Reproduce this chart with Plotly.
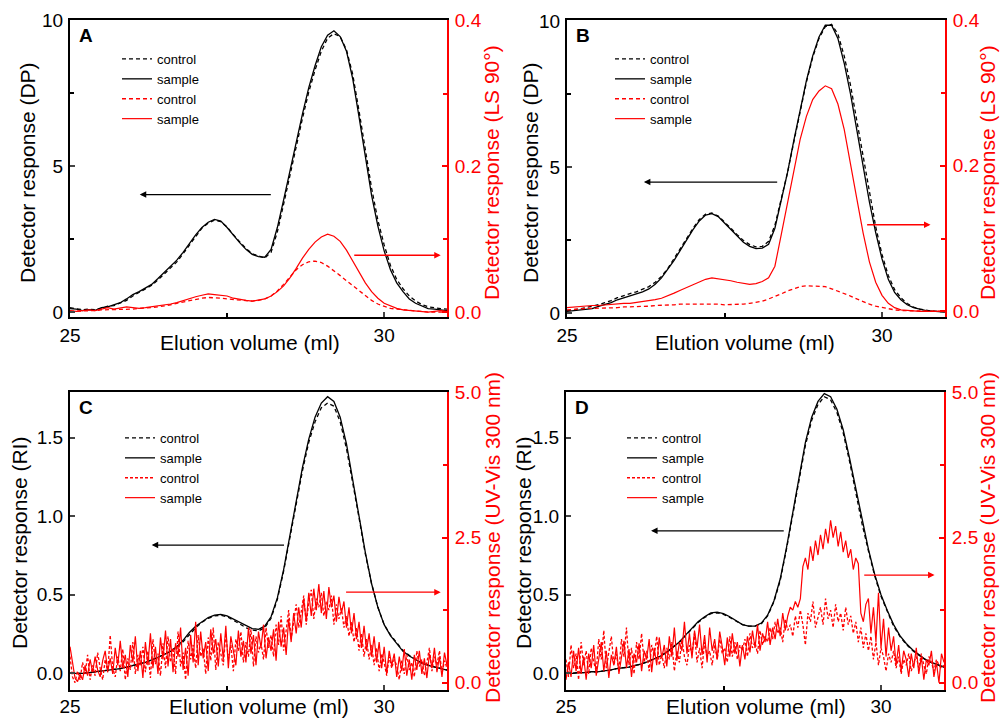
import plotly.graph_objects as go

FONT = "Liberation Sans, Arial, sans-serif"
RED = "#ff0000"

# ---- elution volume grids (ml) ----
x_coarse = [round(25 + 0.1 * i, 2) for i in range(61)]     # 25.0 .. 31.0
x_fine = [round(25 + 0.04 * i, 2) for i in range(151)]     # 25.00 .. 31.00

# ---- Panel A : DP (left) and LS 90 deg (right) ----
A_dp_control = [0.15, 0.12, 0.08, 0.10, 0.08, 0.12, 0.20, 0.22, 0.30, 0.40,
                0.55, 0.68, 0.80, 0.92, 1.10, 1.30, 1.50, 1.72, 2.00, 2.30,
                2.60, 2.88, 3.05, 3.15, 3.10, 2.92, 2.65, 2.40, 2.18, 2.00,
                1.92, 1.85, 2.05, 2.75, 3.70, 4.70, 5.70, 6.65, 7.55, 8.30,
                8.95, 9.40, 9.55, 9.45, 9.00, 8.15, 6.90, 5.55, 4.25, 3.15,
                2.30, 1.60, 1.12, 0.80, 0.55, 0.38, 0.26, 0.18, 0.14, 0.12, 0.10]
A_dp_sample = [0.12, 0.10, 0.05, 0.08, 0.06, 0.15, 0.18, 0.25, 0.32, 0.45,
               0.60, 0.70, 0.82, 0.95, 1.15, 1.35, 1.55, 1.78, 2.05, 2.35,
               2.65, 2.90, 3.08, 3.18, 3.12, 2.90, 2.62, 2.38, 2.15, 1.98,
               1.90, 1.88, 2.15, 2.90, 3.85, 4.85, 5.85, 6.80, 7.70, 8.45,
               9.10, 9.50, 9.65, 9.45, 8.95, 8.00, 6.70, 5.30, 4.00, 2.95,
               2.10, 1.45, 1.00, 0.70, 0.45, 0.30, 0.20, 0.12, 0.10, 0.08, 0.05]
A_ls_control = [0.001, 0.001, 0.002, 0.002, 0.002, 0.003, 0.003, 0.003, 0.004, 0.004,
                0.004, 0.005, 0.005, 0.006, 0.007, 0.008, 0.010, 0.012, 0.014, 0.016,
                0.018, 0.019, 0.020, 0.020, 0.019, 0.018, 0.017, 0.016, 0.015, 0.015,
                0.016, 0.018, 0.022, 0.029, 0.038, 0.048, 0.058, 0.065, 0.069, 0.070,
                0.068, 0.063, 0.057, 0.050, 0.043, 0.036, 0.029, 0.022, 0.016, 0.011,
                0.008, 0.005, 0.004, 0.003, 0.002, 0.001, 0.001, 0.000, 0.000, 0.000, 0.000]
A_ls_sample = [0.002, 0.001, 0.002, 0.003, 0.002, 0.004, 0.006, 0.004, 0.005, 0.007,
               0.006, 0.005, 0.006, 0.007, 0.008, 0.009, 0.011, 0.013, 0.016, 0.019,
               0.021, 0.023, 0.025, 0.024, 0.023, 0.022, 0.019, 0.017, 0.016, 0.015,
               0.016, 0.018, 0.022, 0.028, 0.036, 0.047, 0.060, 0.074, 0.086, 0.096,
               0.103, 0.107, 0.104, 0.097, 0.085, 0.070, 0.054, 0.040, 0.028, 0.019,
               0.012, 0.008, 0.005, 0.003, 0.002, 0.001, 0.001, 0.000, 0.001, 0.002, 0.001]

# ---- Panel B ----
B_dp_control = [0.08, 0.10, 0.14, 0.18, 0.22, 0.28, 0.35, 0.42, 0.52, 0.60,
                0.66, 0.72, 0.80, 0.90, 1.05, 1.25, 1.52, 1.85, 2.20, 2.55,
                2.90, 3.20, 3.38, 3.42, 3.32, 3.12, 2.90, 2.68, 2.48, 2.34,
                2.26, 2.28, 2.45, 3.00, 3.85, 4.80, 5.85, 6.90, 7.90, 8.75,
                9.40, 9.80, 9.88, 9.55, 8.80, 7.80, 6.55, 5.30, 4.05, 2.95,
                2.00, 1.28, 0.80, 0.52, 0.32, 0.20, 0.13, 0.09, 0.06, 0.05, 0.04]
B_dp_sample = [0.05, 0.08, 0.10, 0.12, 0.15, 0.22, 0.28, 0.35, 0.45, 0.52,
               0.58, 0.65, 0.72, 0.82, 0.98, 1.20, 1.48, 1.80, 2.15, 2.50,
               2.85, 3.15, 3.35, 3.40, 3.30, 3.08, 2.85, 2.62, 2.42, 2.28,
               2.20, 2.22, 2.35, 2.90, 3.80, 4.80, 5.90, 6.95, 7.95, 8.80,
               9.45, 9.85, 9.85, 9.40, 8.55, 7.50, 6.25, 5.00, 3.80, 2.75,
               1.85, 1.15, 0.70, 0.45, 0.28, 0.18, 0.12, 0.08, 0.06, 0.04, 0.03]
B_ls_control = [0.002, 0.003, 0.003, 0.004, 0.004, 0.004, 0.005, 0.005, 0.005, 0.006,
                0.006, 0.006, 0.007, 0.007, 0.008, 0.008, 0.009, 0.009, 0.010, 0.010,
                0.010, 0.010, 0.011, 0.010, 0.010, 0.009, 0.009, 0.009, 0.010, 0.011,
                0.012, 0.014, 0.017, 0.020, 0.024, 0.028, 0.031, 0.034, 0.035, 0.035,
                0.035, 0.034, 0.031, 0.028, 0.025, 0.021, 0.017, 0.013, 0.010, 0.007,
                0.005, 0.003, 0.002, 0.001, 0.001, 0.000, 0.000, 0.000, 0.000, 0.000, 0.000]
B_ls_sample = [0.005, 0.006, 0.006, 0.007, 0.008, 0.008, 0.009, 0.010, 0.010, 0.011,
               0.011, 0.012, 0.013, 0.014, 0.016, 0.018, 0.021, 0.025, 0.029, 0.033,
               0.037, 0.041, 0.044, 0.046, 0.045, 0.044, 0.042, 0.040, 0.038, 0.037,
               0.038, 0.041, 0.046, 0.062, 0.105, 0.150, 0.195, 0.236, 0.268, 0.291,
               0.303, 0.310, 0.306, 0.285, 0.250, 0.205, 0.155, 0.108, 0.068, 0.040,
               0.022, 0.011, 0.005, 0.002, 0.001, 0.000, 0.000, 0.000, 0.000, 0.000, 0.000]

# ---- Panel C : RI (left) and UV-Vis 300 nm (right) ----
C_ri_control = [0.00, 0.00, 0.00, 0.005, 0.01, 0.015, 0.02, 0.025, 0.03, 0.04,
                0.05, 0.06, 0.07, 0.085, 0.10, 0.12, 0.14, 0.165, 0.20, 0.245,
                0.29, 0.325, 0.35, 0.365, 0.37, 0.36, 0.34, 0.315, 0.29, 0.275,
                0.27, 0.29, 0.35, 0.47, 0.65, 0.86, 1.08, 1.29, 1.47, 1.60,
                1.69, 1.72, 1.70, 1.60, 1.43, 1.22, 0.99, 0.76, 0.57, 0.42,
                0.31, 0.245, 0.195, 0.145, 0.115, 0.088, 0.067, 0.052, 0.041, 0.031, 0.021]
C_ri_sample = [0.00, 0.00, 0.00, 0.005, 0.01, 0.015, 0.02, 0.025, 0.03, 0.04,
               0.05, 0.06, 0.07, 0.085, 0.10, 0.12, 0.14, 0.17, 0.21, 0.26,
               0.30, 0.33, 0.355, 0.37, 0.375, 0.365, 0.345, 0.32, 0.30, 0.285,
               0.28, 0.30, 0.36, 0.48, 0.66, 0.88, 1.10, 1.31, 1.49, 1.63,
               1.72, 1.76, 1.73, 1.63, 1.46, 1.24, 1.00, 0.77, 0.57, 0.42,
               0.31, 0.24, 0.19, 0.14, 0.11, 0.085, 0.065, 0.05, 0.04, 0.03, 0.02]
C_uv_control = [0.45, 0.10, 0.00, 0.20, 0.05, 0.35, 0.15, 0.48, 0.05, 0.30,
                0.12, 0.52, 0.25, 0.05, 0.40, 0.18, 0.82, 0.25, 0.10, 0.45,
                0.20, 0.58, 0.05, 0.42, 0.22, 0.70, 0.15, 0.48, 0.30, 0.62,
                0.18, 0.55, 0.08, 0.75, 0.32, 0.50, 0.12, 0.68, 0.25, 0.80,
                0.35, 0.60, 0.15, 0.88, 0.28, 0.52, 0.05, 0.72, 0.40, 0.65,
                0.25, 0.82, 0.45, 0.60, 0.15, 0.78, 0.38, 0.95, 0.22, 0.70,
                0.50, 0.30, 0.85, 0.40, 0.65, 0.20, 0.75, 0.55, 0.88, 0.35,
                0.70, 0.45, 0.92, 0.28, 0.80, 0.52, 0.68, 0.40, 0.95, 0.60,
                0.82, 0.45, 1.00, 0.65, 1.15, 0.55, 0.90, 1.25, 0.75, 1.05,
                1.35, 0.95, 1.20, 1.50, 1.00, 1.40, 1.60, 1.10, 1.45, 1.30,
                1.55, 1.15, 1.40, 1.25, 1.50, 1.00, 1.35, 1.10, 1.28, 0.95,
                1.15, 0.80, 1.05, 0.70, 0.95, 0.55, 0.85, 0.45, 0.75, 0.40,
                0.65, 0.30, 0.60, 0.20, 0.50, 0.35, 0.12, 0.45, 0.25, 0.40,
                0.30, 0.05, 0.38, 0.15, 0.48, 0.22, 0.35, 0.10, 0.55, 0.28,
                0.40, 0.12, 0.35, 0.60, 0.20, 0.45, 0.30, 0.55, 0.15, 0.38,
                0.25]
C_uv_sample = [0.62, 0.35, 0.08, 0.02, 0.15, 0.05, 0.30, 0.12, 0.40, 0.18,
               0.45, 0.22, 0.10, 0.38, 0.55, 0.20, 0.42, 0.15, 0.60, 0.30,
               0.72, 0.25, 0.48, 0.10, 0.65, 0.35, 0.80, 0.20, 0.55, 0.08,
               0.70, 0.30, 0.85, 0.25, 0.62, 0.15, 0.78, 0.40, 0.90, 0.28,
               0.75, 0.18, 0.68, 0.45, 0.95, 0.22, 0.60, 0.12, 0.82, 0.35,
               1.05, 0.30, 0.88, 0.42, 0.70, 0.20, 0.92, 0.50, 0.75, 0.28,
               0.85, 0.40, 0.98, 0.25, 0.80, 0.55, 0.30, 0.90, 0.45, 0.72,
               0.35, 0.95, 0.50, 0.82, 0.30, 0.88, 0.60, 1.00, 0.42, 0.78,
               0.55, 0.92, 0.38, 1.05, 0.62, 0.95, 0.48, 1.10, 0.70, 1.20,
               0.85, 1.30, 0.95, 1.45, 1.05, 1.55, 1.15, 1.62, 1.25, 1.70,
               1.20, 1.58, 1.10, 1.65, 1.30, 1.50, 1.05, 1.48, 1.20, 1.40,
               0.95, 1.30, 0.85, 1.20, 0.75, 1.05, 0.60, 0.98, 0.55, 0.85,
               0.45, 0.80, 0.35, 0.70, 0.25, 0.62, 0.15, 0.55, 0.30, 0.50,
               0.10, 0.45, 0.20, 0.58, 0.12, 0.40, 0.05, 0.48, 0.22, 0.55,
               0.15, 0.42, 0.08, 0.50, 0.25, 0.60, 0.18, 0.45, 0.10, 0.52,
               0.30]

# ---- Panel D ----
D_ri_control = [0.00, 0.00, 0.005, 0.005, 0.01, 0.01, 0.015, 0.02, 0.03, 0.035,
                0.04, 0.05, 0.06, 0.075, 0.09, 0.11, 0.135, 0.165, 0.20, 0.24,
                0.285, 0.325, 0.355, 0.38, 0.385, 0.375, 0.355, 0.33, 0.31, 0.30,
                0.30, 0.315, 0.365, 0.455, 0.59, 0.79, 1.01, 1.24, 1.45, 1.61,
                1.71, 1.76, 1.74, 1.66, 1.53, 1.35, 1.15, 0.95, 0.78, 0.62,
                0.49, 0.39, 0.30, 0.235, 0.185, 0.145, 0.115, 0.088, 0.068, 0.053, 0.04]
D_ri_sample = [0.00, 0.00, 0.005, 0.005, 0.01, 0.01, 0.015, 0.02, 0.03, 0.035,
               0.04, 0.05, 0.06, 0.075, 0.09, 0.11, 0.135, 0.165, 0.20, 0.245,
               0.29, 0.33, 0.36, 0.385, 0.39, 0.38, 0.36, 0.335, 0.31, 0.30,
               0.30, 0.32, 0.37, 0.46, 0.60, 0.80, 1.03, 1.26, 1.47, 1.63,
               1.73, 1.78, 1.76, 1.68, 1.55, 1.37, 1.17, 0.97, 0.79, 0.63,
               0.50, 0.40, 0.31, 0.24, 0.19, 0.15, 0.12, 0.09, 0.07, 0.055, 0.04]
D_uv_control = [0.40, 0.10, 0.65, 0.25, 0.50, 0.05, 0.70, 0.30, 0.55, 0.15,
                0.60, 0.35, 0.20, 0.75, 0.40, 0.90, 0.25, 0.55, 0.80, 0.30,
                0.50, 0.20, 0.75, 0.45, 0.95, 0.30, 0.60, 0.15, 0.70, 0.40,
                0.85, 0.35, 0.55, 0.20, 0.65, 0.45, 0.80, 0.30, 0.50, 0.25,
                0.60, 0.40, 0.70, 0.20, 0.55, 0.35, 0.75, 0.45, 0.30, 0.65,
                0.50, 0.85, 0.35, 0.60, 0.25, 0.70, 0.45, 0.55, 0.30, 0.65,
                0.40, 0.75, 0.50, 0.60, 0.35, 0.80, 0.45, 0.70, 0.40, 0.65,
                0.55, 0.75, 0.45, 0.85, 0.60, 0.70, 0.50, 0.90, 0.65, 0.80,
                0.70, 0.95, 0.75, 1.05, 0.85, 0.95, 0.70, 1.10, 0.90, 1.00,
                0.80, 1.15, 0.95, 1.25, 1.00, 0.65, 1.20, 1.05, 1.40, 0.95,
                1.15, 1.30, 1.00, 1.45, 1.10, 1.25, 0.95, 1.35, 1.05, 1.20,
                0.90, 1.30, 1.00, 1.15, 0.85, 1.05, 0.70, 0.95, 0.60, 0.85,
                0.55, 0.80, 0.40, 0.70, 0.30, 0.60, 0.45, 0.20, 0.50, 0.35,
                0.55, 0.25, 0.45, 0.15, 0.40, 0.30, 0.50, 0.20, 0.35, 0.45,
                0.25, 0.50, 0.30, 0.15, 0.45, 0.35, 0.20, 0.40, 0.30, 0.25,
                0.30]
D_uv_sample = [0.05, 0.35, 0.10, 0.55, 0.20, 0.60, 0.15, 0.45, 0.05, 0.50,
               0.25, 0.65, 0.12, 0.40, 0.70, 0.20, 0.55, 0.08, 0.48, 0.30,
               0.62, 0.15, 0.45, 0.72, 0.25, 0.58, 0.10, 0.50, 0.35, 0.68,
               0.20, 0.55, 0.40, 0.75, 0.18, 0.60, 0.30, 0.78, 0.42, 0.65,
               0.28, 0.80, 0.45, 0.95, 0.38, 0.70, 0.55, 1.05, 0.50, 0.85,
               0.42, 0.90, 0.60, 1.00, 0.48, 0.82, 0.35, 0.95, 0.55, 0.75,
               0.40, 0.88, 0.62, 0.30, 0.78, 0.45, 0.85, 0.50, 0.70, 0.28,
               0.65, 0.40, 0.80, 0.52, 0.90, 0.60, 1.00, 0.55, 0.85, 0.70,
               1.05, 0.65, 0.95, 0.75, 1.10, 0.80, 1.20, 0.90, 1.15, 1.30,
               1.25, 1.40, 1.30, 1.45, 2.00, 2.15, 1.95, 2.35, 2.10, 2.45,
               2.20, 2.55, 2.30, 2.65, 2.40, 2.80, 2.50, 2.70, 2.35, 2.60,
               2.25, 2.45, 2.15, 2.30, 1.95, 2.15, 2.05, 1.20, 1.05, 1.35,
               1.45, 0.85, 1.30, 0.70, 1.55, 0.60, 1.10, 0.45, 0.95, 0.55,
               0.80, 0.30, 0.65, 0.20, 0.55, 0.40, 0.10, 0.50, 0.25, 0.60,
               0.15, 0.45, 0.05, 0.40, 0.30, 0.55, 0.10, 0.35, 0.00, 0.50,
               0.35]

# ---- labels ----
x_title = "Elution volume (ml)"
panel_letters = ["A", "B", "C", "D"]
left_titles = ["Detector response (DP)", "Detector response (DP)",
               "Detector response (RI)", "Detector response (RI)"]
right_titles = ["Detector response (LS 90°)", "Detector response (LS 90°)",
                "Detector response (UV-Vis 300 nm)", "Detector response (UV-Vis 300 nm)"]
legend_labels = ["control", "sample", "control", "sample"]

W, H = 1001, 719
# plot-area boxes in pixels (left, right, top, bottom)
boxes = [(70, 447, 20, 317), (567, 945, 20, 317),
         (70, 447, 392, 690), (566, 944, 392, 690)]

panels = [
    (x_coarse, A_dp_control, A_dp_sample, x_coarse, A_ls_control, A_ls_sample),
    (x_coarse, B_dp_control, B_dp_sample, x_coarse, B_ls_control, B_ls_sample),
    (x_coarse, C_ri_control, C_ri_sample, x_fine, C_uv_control, C_uv_sample),
    (x_coarse, D_ri_control, D_ri_sample, x_fine, D_uv_control, D_uv_sample),
]

left_ranges = [[-0.17, 10.02], [-0.14, 10.03], [-0.106, 1.79], [-0.106, 1.79]]
right_ranges = [[-0.0068, 0.4009], [-0.0078, 0.4005], [-0.126, 5.01], [-0.126, 5.01]]
left_ticks = [(0, 5, 2.5), (0, 5, 2.5), (0, 0.5, None), (0, 0.5, None)]
right_ticks = [(0, 0.2, 0.1), (0, 0.2, 0.1), (0, 2.5, 1.25), (0, 2.5, 1.25)]
left_fmt = ["", "", ".1f", ".1f"]
right_fmt = [".1f", ".1f", ".1f", ".1f"]
xlabel_shift = [0, 0, -2, -2]

# arrows: (black head x, black tail x, black y), (red tail x, red head x, red y)
arrows = [((26.11, 28.22, 4.03), (29.5, 30.9, 0.078)),
          ((26.22, 28.36, 4.48), (29.74, 30.77, 0.119)),
          ((26.30, 28.43, 0.816), (29.37, 30.9, 1.56)),
          ((26.35, 28.48, 0.907), (29.71, 30.85, 1.855))]

# text placement in pixels
legend_pos = [(117, 44), (610, 44), (120, 423), (622, 423)]
xtitle_pos = [(250, 342), (745, 342), (259, 706), (756, 706)]
ltitle_pos = [(27, 173), (530, 173), (19, 543), (523, 543)]
rtitle_pos = [(491, 173), (987, 173), (492, 538), (987, 538)]

fig = go.Figure()
layout = dict(width=W, height=H, margin=dict(l=0, r=0, t=0, b=0), autosize=False,
              paper_bgcolor="white", plot_bgcolor="white",
              font=dict(family=FONT, size=19, color="black"), showlegend=True)
annotations = []

for i in range(4):
    l, r, t, b = boxes[i]
    xs = "" if i == 0 else str(i + 1)
    yl = "" if i == 0 else str(2 * i + 1)
    yr = str(2 * i + 2)
    xname, ylname, yrname = "x" + xs, "y" + yl, "y" + yr
    leg = "legend" if i == 0 else "legend" + str(i + 1)
    xb, yc, ys, xr, rc, rs = panels[i]
    dash_red = "4px,3px" if i < 2 else "3px,2px"
    fig.add_trace(go.Scatter(x=xb, y=yc, mode="lines", name=legend_labels[0],
                             line=dict(color="black", width=1.3, dash="4px,3px"),
                             xaxis=xname, yaxis=ylname, legend=leg))
    fig.add_trace(go.Scatter(x=xb, y=ys, mode="lines", name=legend_labels[1],
                             line=dict(color="black", width=1.3),
                             xaxis=xname, yaxis=ylname, legend=leg))
    fig.add_trace(go.Scatter(x=xr, y=rc, mode="lines", name=legend_labels[2],
                             line=dict(color=RED, width=1.3, dash=dash_red),
                             xaxis=xname, yaxis=yrname, legend=leg))
    fig.add_trace(go.Scatter(x=xr, y=rs, mode="lines", name=legend_labels[3],
                             line=dict(color=RED, width=1.2),
                             xaxis=xname, yaxis=yrname, legend=leg))

    xdom = [l / W, r / W]
    ydom = [1 - b / H, 1 - t / H]
    layout["xaxis" + xs] = dict(
        domain=xdom, range=[25, 31], anchor=ylname, showline=True, linecolor="black",
        linewidth=2, mirror=True, ticks="inside", ticklen=5, tickwidth=1.5,
        tick0=25, dtick=5, minor=dict(dtick=2.5, ticks="inside", ticklen=4, tickcolor="black"),
        showgrid=False, zeroline=False, tickfont=dict(size=19), automargin=False,
        ticklabelstandoff=xlabel_shift[i])
    d0, dmaj, dmin = left_ticks[i]
    ldict = dict(domain=ydom, range=left_ranges[i], anchor=xname, showline=True,
                 linecolor="black", linewidth=2, ticks="inside", ticklen=5, tickwidth=1.5,
                 tick0=d0, dtick=dmaj, showgrid=False, zeroline=False,
                 tickformat=left_fmt[i], tickfont=dict(size=19), automargin=False,
                 ticklabelstandoff=1)
    if dmin:
        ldict["minor"] = dict(dtick=dmin, ticks="inside", ticklen=4, tickcolor="black")
    layout["yaxis" + yl] = ldict
    r0, rmaj, rmin = right_ticks[i]
    layout["yaxis" + yr] = dict(
        domain=ydom, range=right_ranges[i], anchor=xname, overlaying=ylname, side="right",
        showline=True, linecolor=RED, linewidth=2, ticks="inside", ticklen=5, tickwidth=1.5,
        tickcolor=RED, tick0=r0, dtick=rmaj,
        minor=dict(dtick=rmin, ticks="inside", ticklen=4, tickcolor=RED),
        showgrid=False, zeroline=False, tickformat=right_fmt[i],
        tickfont=dict(size=19, color=RED), automargin=False, ticklabelstandoff=2)

    lx, ly = legend_pos[i]
    layout[leg] = dict(x=lx / W, y=1 - ly / H, xanchor="left", yanchor="top",
                       bgcolor="rgba(0,0,0,0)", font=dict(size=13, family=FONT),
                       itemwidth=30, tracegroupgap=0)

    tx, ty = xtitle_pos[i]
    annotations.append(dict(x=tx / W, y=1 - ty / H, xref="paper", yref="paper",
                            text=x_title, showarrow=False, xanchor="center",
                            yanchor="middle", font=dict(size=21)))
    tx, ty = ltitle_pos[i]
    annotations.append(dict(x=tx / W, y=1 - ty / H, xref="paper", yref="paper",
                            text=left_titles[i], showarrow=False, textangle=-90,
                            xanchor="center", yanchor="middle", font=dict(size=21)))
    tx, ty = rtitle_pos[i]
    annotations.append(dict(x=tx / W, y=1 - ty / H, xref="paper", yref="paper",
                            text=right_titles[i], showarrow=False, textangle=-90,
                            xanchor="center", yanchor="middle",
                            font=dict(size=21, color=RED)))

    annotations.append(dict(x=(l + 7) / W, y=1 - (t + 15) / H, xref="paper", yref="paper",
                            text="<b>" + panel_letters[i] + "</b>", showarrow=False,
                            xanchor="left", yanchor="middle", font=dict(size=19)))
    (bh, bt, by), (rt, rh, ry) = arrows[i]
    annotations.append(dict(x=bh, y=by, ax=bt, ay=by, xref=xname, yref=ylname,
                            axref=xname, ayref=ylname, text="", showarrow=True,
                            arrowhead=2, arrowsize=1, arrowwidth=1.3, arrowcolor="black"))
    annotations.append(dict(x=rh, y=ry, ax=rt, ay=ry, xref=xname, yref=yrname,
                            axref=xname, ayref=yrname, text="", showarrow=True,
                            arrowhead=2, arrowsize=1, arrowwidth=1.3, arrowcolor=RED))

layout["annotations"] = annotations
fig.update_layout(**layout)
fig.write_html("out.html", config={"displayModeBar": False},
               post_script="document.body.style.margin='0px';document.body.style.overflow='hidden';")
